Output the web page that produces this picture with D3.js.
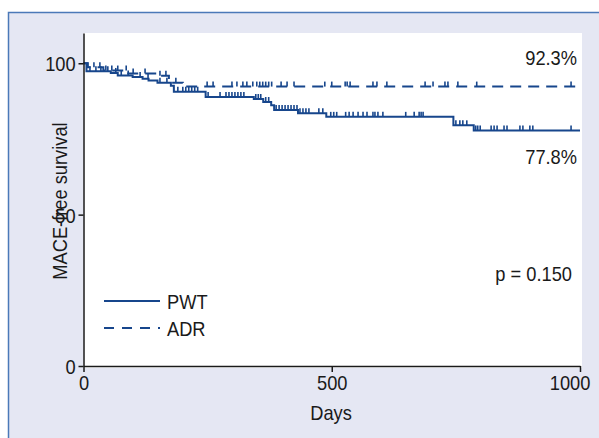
<!DOCTYPE html>
<html>
<head>
<meta charset="utf-8">
<script src="https://cdn.jsdelivr.net/npm/d3@7"></script>
<style>
  body { margin: 0; background: #fff; }
  text { font-family: "Liberation Sans", Arial, sans-serif; fill: #1a1a1a; }
</style>
</head>
<body>
<script>
var width = 599,
    height = 438;

// step curves (days, survival %)
var pwtDays = [0, 6, 55, 69, 99, 119, 131, 149, 176, 182, 246, 343, 362, 378, 384, 432, 489, 745, 786];
var pwtSurv = [100, 97.4, 96.8, 96.0, 95.5, 94.9, 94.3, 93.6, 92.6, 90.6, 88.9, 88.2, 87.2, 86.1, 84.6, 83.5, 82.3, 79.5, 77.8];
var adrDays = [0, 8, 40, 90, 150, 172, 200];
var adrSurv = [100, 98.7, 97.6, 96.6, 95.9, 93.6, 92.3];

// censored observations (days)
var pwtCensor = [13, 25, 35, 49, 65, 76, 90, 114, 130, 154, 168, 190, 200, 206, 212, 218, 224, 230, 251, 275, 287, 293, 299, 305, 311, 317, 323,
    347, 352, 357, 367, 373, 388, 394, 400, 406, 412, 418, 424, 430, 436, 442, 448, 454, 474, 482, 498, 504, 510, 528, 535, 543, 553, 563, 571,
    583, 587, 593, 603, 649, 666, 676, 680, 684, 750, 758, 764, 772, 790, 794, 799, 821, 827, 833, 847, 853, 879, 885, 899, 905, 982];
var adrCensor = [9, 21, 33, 45, 57, 69, 86, 100, 124, 154, 166, 186, 249, 261, 299, 309, 321, 329, 341, 349, 355, 361, 367, 373, 379,
    398, 410, 424, 486, 500, 527, 531, 537, 583, 591, 611, 688, 704, 728, 734, 754, 792, 982];

var groups = ['PWT', 'ADR'];
var endLabels = ['77.8%', '92.3%'];
var xTicks = [0, 500, 1000];
var yTicks = [0, 50, 100];

var blue = '#17468c';
var narrow = 'scale(0.87,1)';

var svg = d3.select('body').append('svg')
    .attr('width', width)
    .attr('height', height);

// panel frame
svg.append('rect')
    .attr('x', 8.5).attr('y', 12.5)
    .attr('width', 600).attr('height', 440)
    .attr('fill', '#e5e7f3')
    .attr('stroke', '#4b79b8')
    .attr('stroke-width', 1.5);

var x = d3.scaleLinear().domain([0, 1000]).range([83.5, 580]);
var y = d3.scaleLinear().domain([0, 110]).range([366, 33]);

svg.append('rect')
    .attr('x', x(0)).attr('y', y(110))
    .attr('width', 582 - x(0)).attr('height', 368 - y(110))
    .attr('fill', '#fff');

function survAt(days, surv, t) {
    var v = surv[0];
    for (var i = 0; i < days.length; i++) {
        if (days[i] <= t) v = surv[i];
    }
    return v;
}

function drawCurve(days, surv, censor, dash) {
    var pts = days.map(function (d, i) { return [d, surv[i]]; });
    pts.push([1000, surv[surv.length - 1]]);
    var line = d3.line()
        .x(function (d) { return x(d[0]); })
        .y(function (d) { return y(d[1]); })
        .curve(d3.curveStepAfter);
    svg.append('path')
        .attr('d', line(pts))
        .attr('fill', 'none')
        .attr('stroke', blue)
        .attr('stroke-width', 2)
        .attr('stroke-dasharray', dash);
    svg.append('g').selectAll('line')
        .data(censor)
        .enter().append('line')
        .attr('x1', function (d) { return x(d); })
        .attr('x2', function (d) { return x(d); })
        .attr('y1', function (d) { return y(survAt(days, surv, d)); })
        .attr('y2', function (d) { return y(survAt(days, surv, d)) - 5; })
        .attr('stroke', blue)
        .attr('stroke-width', 1.6);
}

drawCurve(adrDays, adrSurv, adrCensor, '11,7');
drawCurve(pwtDays, pwtSurv, pwtCensor, null);

// axes
var xAxis = svg.append('g')
    .attr('transform', 'translate(0,366)')
    .call(d3.axisBottom(x).tickValues(xTicks).tickFormat(d3.format('d'))
        .tickSize(6).tickSizeOuter(0).tickPadding(3));
var yAxis = svg.append('g')
    .attr('transform', 'translate(' + x(0) + ',0)')
    .call(d3.axisLeft(y).tickValues(yTicks).tickSize(5).tickSizeOuter(0).tickPadding(3));

svg.selectAll('.domain, .tick line').attr('stroke', '#1a1a1a').attr('stroke-width', 1.5);
svg.selectAll('.tick text')
    .style('font-family', '"Liberation Sans", Arial, sans-serif')
    .style('font-size', '21px')
    .attr('fill', '#1a1a1a')
    .attr('transform', narrow);
yAxis.selectAll('.tick text').attr('dy', '0.36em').attr('x', -9);
xAxis.selectAll('.tick text').filter(function (d) { return d === 1000; }).attr('dx', -12);

// text helper: narrow glyphs like the condensed face of the original
function label(px, py, str, anchor, rot) {
    var g = svg.append('g')
        .attr('transform', 'translate(' + px + ',' + py + ')' + (rot ? ' rotate(' + rot + ')' : ''));
    return g.append('text')
        .attr('transform', narrow)
        .attr('text-anchor', anchor)
        .style('font-size', '21px')
        .text(str);
}

label(331, 420, 'Days', 'middle');
label(67, 201, 'MACE-free survival', 'middle', -90);

// end labels
label(577, y(adrSurv[adrSurv.length - 1]) - 22, endLabels[1], 'end');
label(577, y(pwtSurv[pwtSurv.length - 1]) + 34, endLabels[0], 'end');
label(572, 281, 'p = 0.150', 'end');

// legend
groups.forEach(function (g, i) {
    var ly = 301 + i * 27;
    svg.append('line')
        .attr('x1', 104).attr('x2', 160)
        .attr('y1', ly).attr('y2', ly)
        .attr('stroke', blue)
        .attr('stroke-width', 2)
        .attr('stroke-dasharray', i === 1 ? '10,8' : null);
    label(167, ly + 8, g, 'start');
});
</script>
</body>
</html>
